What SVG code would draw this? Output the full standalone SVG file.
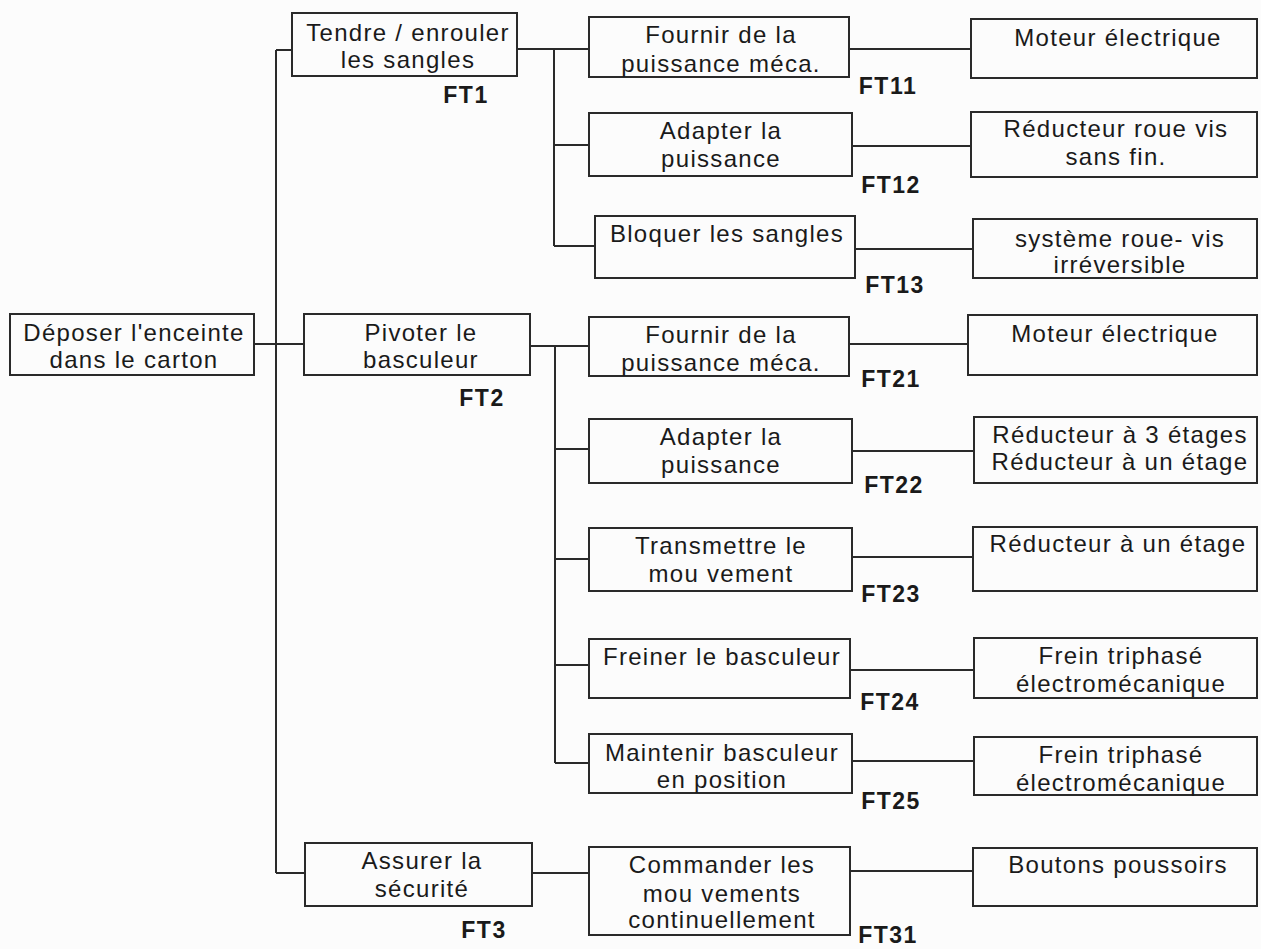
<svg xmlns="http://www.w3.org/2000/svg" width="1261" height="949" viewBox="0 0 1261 949">
<style>
.b{fill:none;stroke:#2a2a2a;stroke-width:2}
.c{fill:none;stroke:#2a2a2a;stroke-width:2}
.t{font-family:"Liberation Sans",Arial,sans-serif;font-size:24px;letter-spacing:1.3px;fill:#1a1a1a;text-anchor:middle}
.f{font-family:"Liberation Sans",Arial,sans-serif;font-size:23px;letter-spacing:1.5px;font-weight:bold;fill:#1a1a1a;text-anchor:middle}
</style>
<rect width="1261" height="949" fill="#fcfcfc"/>
<g id="connectors">
<path class="c" d="M254 344H304M276 50V873M276 50H292M276 873H305"/>
<path class="c" d="M517 49H589M554 49V246M554 145H589M554 246H595"/>
<path class="c" d="M849 49H971M852 146H971M855 249H973"/>
<path class="c" d="M530 346H589M555 346V763M555 449H589M555 559H589M555 665H589M555 763H589"/>
<path class="c" d="M849 344H968M852 451H974M852 557H973M850 670H974M852 761H974"/>
<path class="c" d="M532 873H589M850 871H973"/>
</g>
<g id="n0"><rect class="b" x="10" y="314" width="244" height="61"/><text class="t" x="134" y="341">Déposer l'enceinte</text><text class="t" x="134" y="368">dans le carton</text></g>
<g id="ft1"><rect class="b" x="292" y="13" width="225" height="63"/><text class="t" x="408" y="41">Tendre / enrouler</text><text class="t" x="408" y="68">les sangles</text><text class="f" x="466" y="103">FT1</text></g>
<g id="ft2"><rect class="b" x="304" y="314" width="226" height="61"/><text class="t" x="421" y="341">Pivoter le</text><text class="t" x="421" y="368">basculeur</text><text class="f" x="482" y="406">FT2</text></g>
<g id="ft3"><rect class="b" x="305" y="843" width="227" height="63"/><text class="t" x="422" y="869">Assurer la</text><text class="t" x="422" y="897">sécurité</text><text class="f" x="484" y="938">FT3</text></g>
<g id="ft11"><rect class="b" x="589" y="17" width="260" height="60"/><text class="t" x="721" y="43">Fournir de la</text><text class="t" x="721" y="72">puissance méca.</text><text class="f" x="888" y="94">FT11</text></g>
<g id="ft12"><rect class="b" x="589" y="113" width="263" height="63"/><text class="t" x="721" y="139">Adapter la</text><text class="t" x="721" y="167">puissance</text><text class="f" x="891" y="193">FT12</text></g>
<g id="ft13"><rect class="b" x="595" y="216" width="260" height="62"/><text class="t" x="727" y="242">Bloquer les sangles</text><text class="f" x="895" y="293">FT13</text></g>
<g id="s11"><rect class="b" x="971" y="19" width="286" height="59"/><text class="t" x="1118" y="46">Moteur électrique</text></g>
<g id="s12"><rect class="b" x="971" y="112" width="286" height="65"/><text class="t" x="1116" y="137">Réducteur roue vis</text><text class="t" x="1116" y="165">sans fin.</text></g>
<g id="s13"><rect class="b" x="973" y="219" width="284" height="59"/><text class="t" x="1120" y="247">système roue- vis</text><text class="t" x="1120" y="273">irréversible</text></g>
<g id="ft21"><rect class="b" x="589" y="317" width="260" height="59"/><text class="t" x="721" y="343">Fournir de la</text><text class="t" x="721" y="371">puissance méca.</text><text class="f" x="891" y="387">FT21</text></g>
<g id="ft22"><rect class="b" x="589" y="419" width="263" height="64"/><text class="t" x="721" y="445">Adapter la</text><text class="t" x="721" y="473">puissance</text><text class="f" x="894" y="493">FT22</text></g>
<g id="ft23"><rect class="b" x="589" y="528" width="263" height="63"/><text class="t" x="721" y="554">Transmettre le</text><text class="t" x="721" y="582">mou vement</text><text class="f" x="891" y="602">FT23</text></g>
<g id="ft24"><rect class="b" x="589" y="639" width="261" height="59"/><text class="t" x="722" y="665">Freiner le basculeur</text><text class="f" x="890" y="710">FT24</text></g>
<g id="ft25"><rect class="b" x="589" y="734" width="263" height="59"/><text class="t" x="722" y="761">Maintenir basculeur</text><text class="t" x="722" y="788">en position</text><text class="f" x="891" y="809">FT25</text></g>
<g id="ft31"><rect class="b" x="589" y="847" width="261" height="88"/><text class="t" x="722" y="873">Commander les</text><text class="t" x="722" y="902">mou vements</text><text class="t" x="722" y="928">continuellement</text><text class="f" x="888" y="943">FT31</text></g>
<g id="s21"><rect class="b" x="968" y="315" width="289" height="60"/><text class="t" x="1115" y="342">Moteur électrique</text></g>
<g id="s22"><rect class="b" x="974" y="417" width="283" height="66"/><text class="t" x="1120" y="443">Réducteur à 3 étages</text><text class="t" x="1120" y="470">Réducteur à un étage</text></g>
<g id="s23"><rect class="b" x="973" y="527" width="284" height="64"/><text class="t" x="1118" y="552">Réducteur à un étage</text></g>
<g id="s24"><rect class="b" x="974" y="638" width="283" height="60"/><text class="t" x="1121" y="664">Frein triphasé</text><text class="t" x="1121" y="692">électromécanique</text></g>
<g id="s25"><rect class="b" x="974" y="737" width="283" height="58"/><text class="t" x="1121" y="763">Frein triphasé</text><text class="t" x="1121" y="791">électromécanique</text></g>
<g id="s31"><rect class="b" x="973" y="848" width="284" height="58"/><text class="t" x="1118" y="873">Boutons poussoirs</text></g>
</svg>
